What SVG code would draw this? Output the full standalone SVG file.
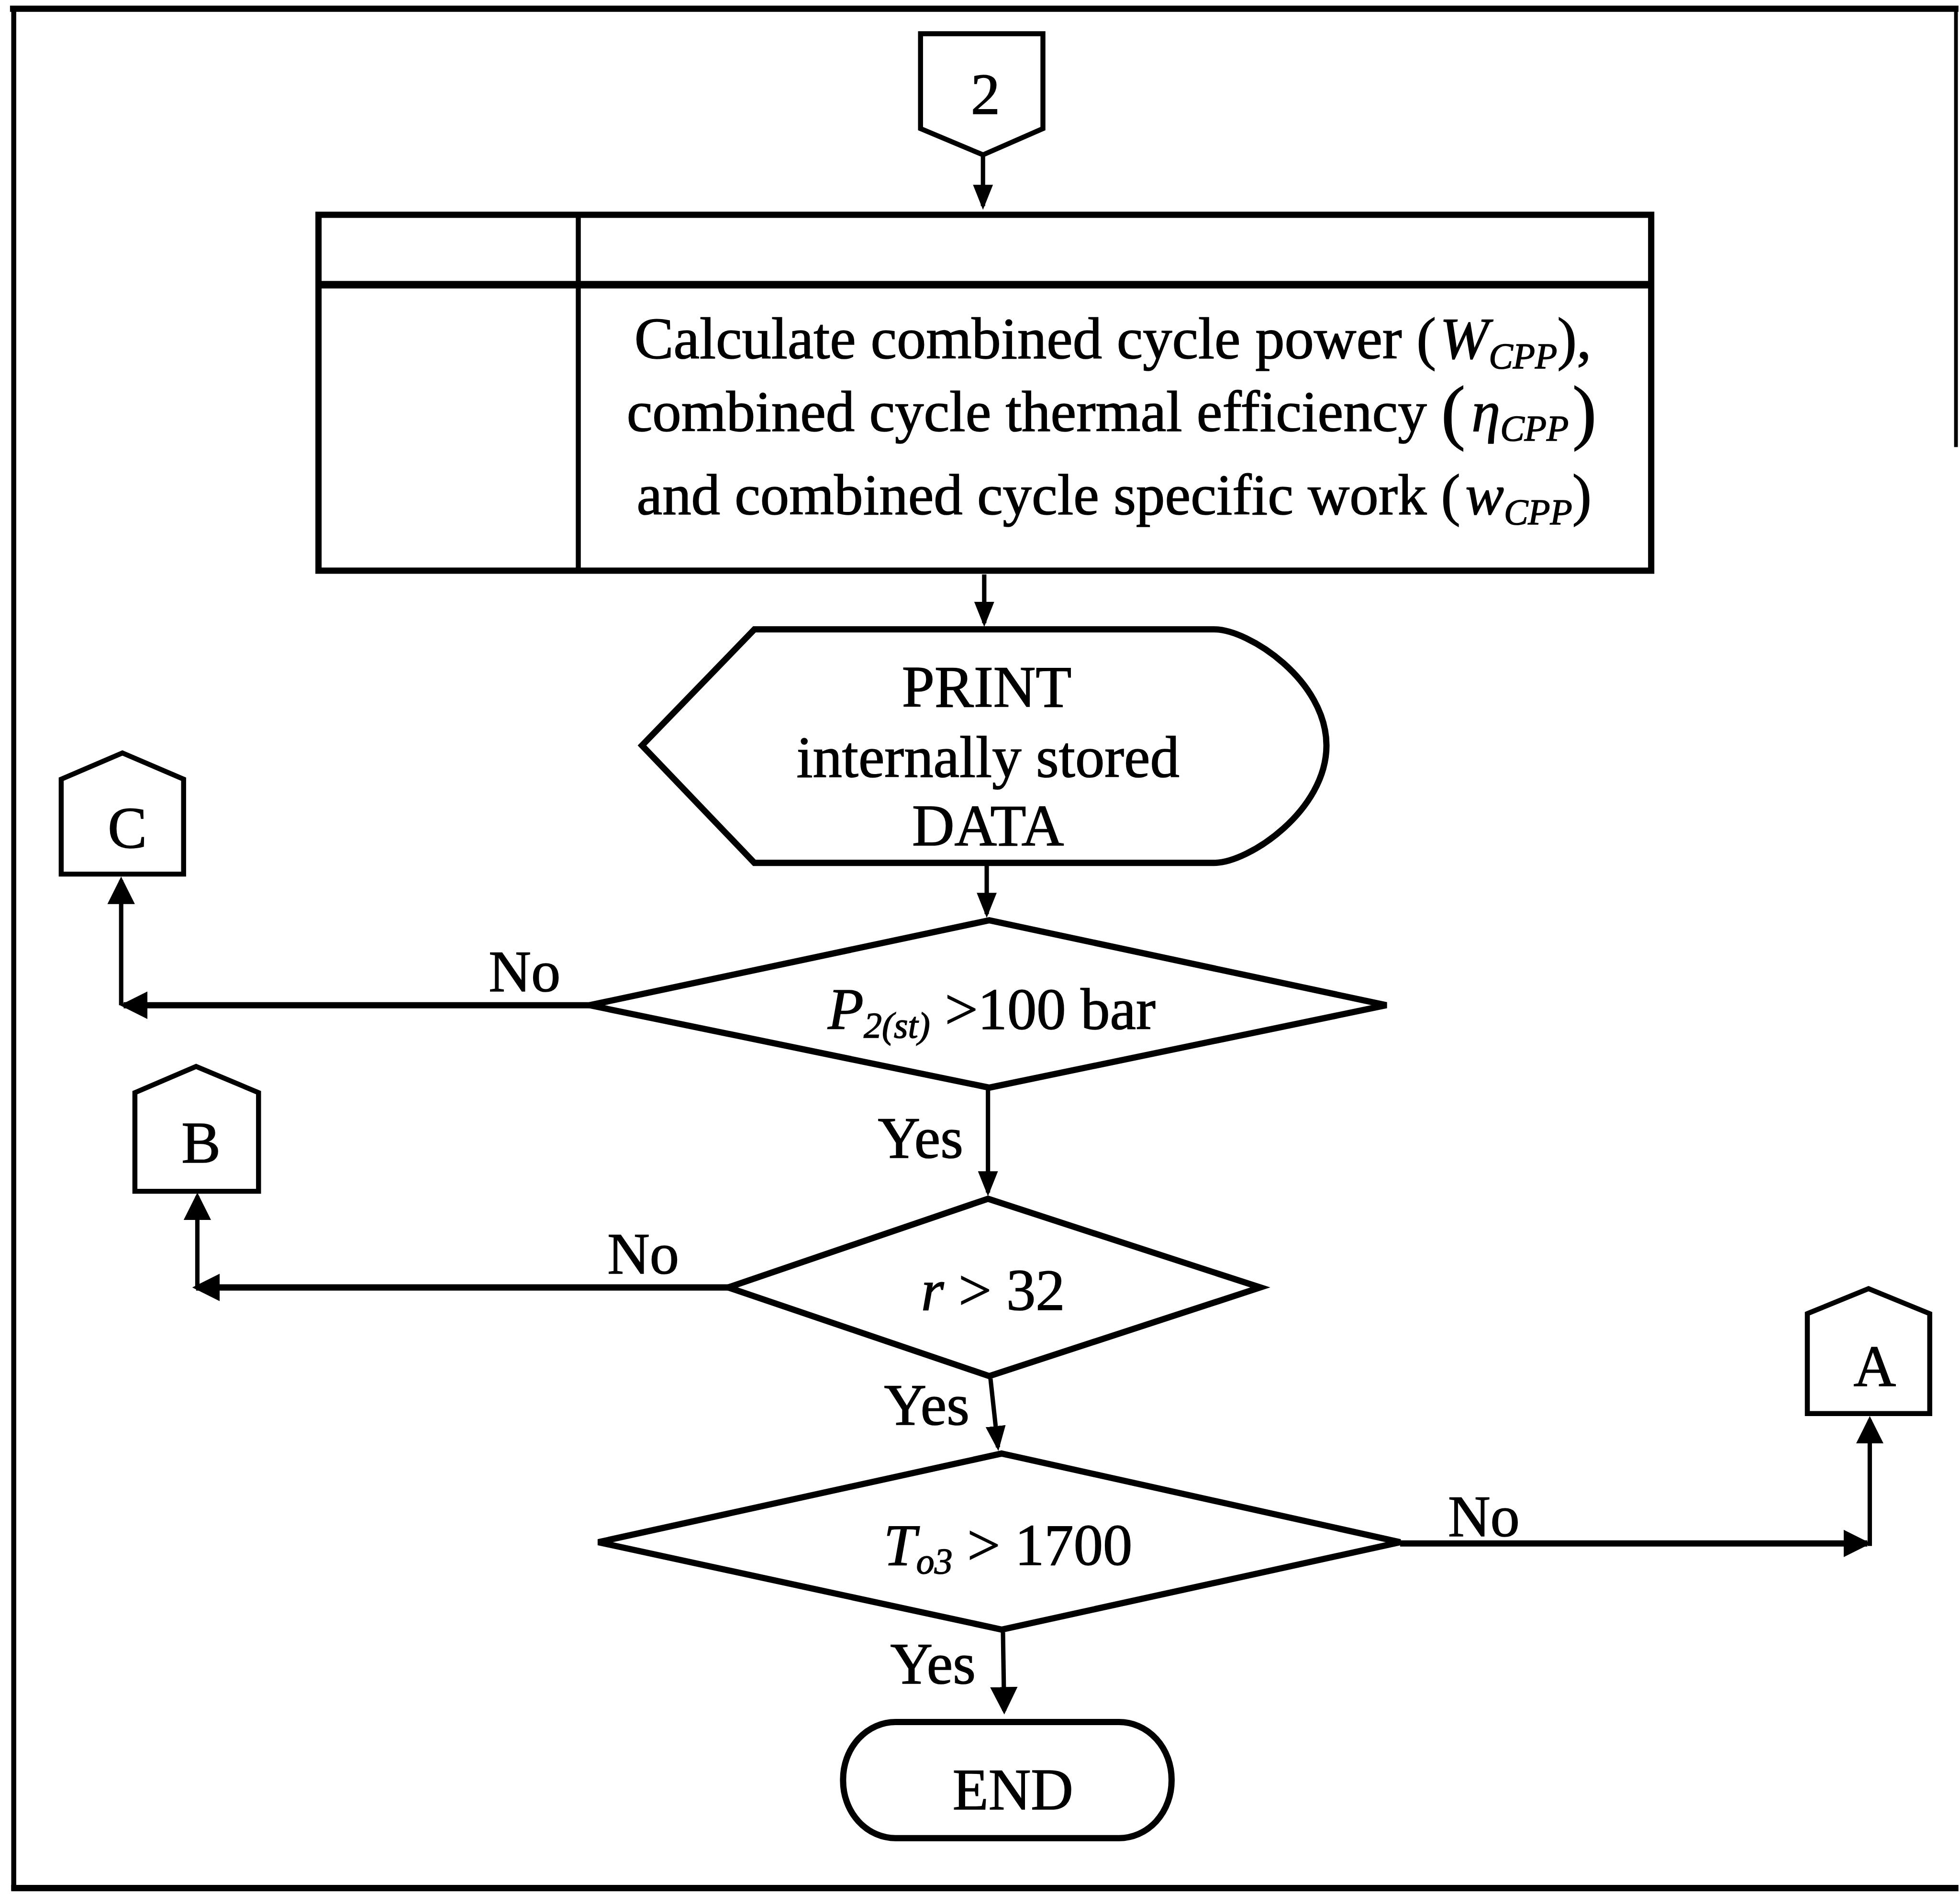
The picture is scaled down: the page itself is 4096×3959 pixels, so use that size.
<svg xmlns="http://www.w3.org/2000/svg" width="4096" height="3959" viewBox="0 0 4096 3959">
  <defs>
    <style>
      .shape{fill:#fff;stroke:#000;stroke-width:5;stroke-linejoin:miter}
      .conn{fill:#fff;stroke:#000;stroke-width:4;stroke-linejoin:miter}
      .line{fill:none;stroke:#000;stroke-width:3.5}
      .hline{fill:none;stroke:#000;stroke-width:5}
      .frame{fill:none;stroke:#000}
      text{font-family:"Liberation Serif","Times New Roman",serif;font-size:47px;fill:#000;stroke:#000;stroke-width:0.6}
      .c{text-anchor:middle}
      .i{font-style:italic}
      .sub{font-style:italic;font-size:29px}
      .tight{font-size:46.3px}
    </style>
    <marker id="ah" viewBox="0 0 20 16" refX="17" refY="8" markerWidth="20" markerHeight="16" markerUnits="userSpaceOnUse" orient="auto">
      <path d="M0,0 L20,8 L0,16 Z" fill="#000"/>
    </marker>
    <marker id="ahw" viewBox="0 0 22 22" refX="19" refY="11" markerWidth="22" markerHeight="22" markerUnits="userSpaceOnUse" orient="auto">
      <path d="M0,0 L22,11 L0,22 Z" fill="#000"/>
    </marker>
  </defs>
  <rect width="4096" height="3959" fill="#fff"/>
  <g transform="scale(2.6102)">
    <!-- page frame -->
    <g id="frame">
      <line class="frame" x1="8" y1="7" x2="1568" y2="7" stroke-width="5"/>
      <line class="frame" x1="11" y1="5" x2="11" y2="1514" stroke-width="4"/>
      <line class="frame" x1="1566" y1="5" x2="1566" y2="358" stroke-width="3"/>
      <line class="frame" x1="9" y1="1512" x2="1568" y2="1512" stroke-width="5"/>
    </g>

    <!-- connectors -->
    <g id="connectors">
      <path class="line" d="M787,125 V165" marker-end="url(#ah)"/>
      <path class="line" d="M788,460 V499" marker-end="url(#ah)"/>
      <path class="line" d="M790,693 V732" marker-end="url(#ah)"/>
      <path class="line" d="M791,873 V955" marker-end="url(#ah)"/>
      <path class="line" d="M793,1104 L799,1159" marker-end="url(#ah)"/>
      <path class="line" d="M803,1307 L804,1370" marker-end="url(#ahw)"/>
      <path class="hline" d="M472,805 H99" marker-end="url(#ahw)"/>
      <path class="line" d="M97,805 V705" marker-end="url(#ahw)"/>
      <path class="hline" d="M583,1031 H157" marker-end="url(#ahw)"/>
      <path class="line" d="M158,1032 V958" marker-end="url(#ahw)"/>
      <path class="hline" d="M1121,1236 H1495" marker-end="url(#ahw)"/>
      <path class="line" d="M1497,1238 V1137" marker-end="url(#ahw)"/>
      <text class="c" x="420" y="794">No</text>
      <text class="c" x="515" y="1020">No</text>
      <text class="c" x="1188" y="1230">No</text>
      <text class="c" x="737" y="927">Yes</text>
      <text class="c" x="742" y="1141">Yes</text>
      <text class="c" x="747" y="1348">Yes</text>
    </g>

    <!-- off-page entry 2 -->
    <g id="entry-2">
      <polygon class="conn" points="737,27 835,27 835,103 787,124 737,103"/>
      <text class="c" x="789" y="91">2</text>
    </g>

    <!-- calculation block -->
    <g id="calc">
      <rect class="shape" x="255" y="172" width="1067" height="285"/>
      <line x1="255" y1="228" x2="1322" y2="228" stroke="#000" stroke-width="6"/>
      <line x1="463" y1="172" x2="463" y2="457" stroke="#000" stroke-width="4"/>
      <text class="c" x="891" y="287">Calculate combined cycle power (<tspan class="i" dx="3">W</tspan><tspan class="sub" dy="8">CPP</tspan><tspan dy="-8">),</tspan></text>
      <text class="c tight" x="890" y="345">combined cycle thermal efficiency <tspan font-size="58" dy="4">(</tspan><tspan class="i" dx="5" dy="-4">η</tspan><tspan class="sub" dy="8">CPP</tspan><tspan font-size="58" dx="3" dy="-4">)</tspan></text>
      <text class="c tight" x="892" y="412">and combined cycle specific work (<tspan class="i" dx="4">w</tspan><tspan class="sub" dy="8">CPP</tspan><tspan dy="-8">)</tspan></text>
    </g>

    <!-- display output -->
    <g id="print">
      <path class="shape" d="M604,504 H972 C1000,504 1062,545 1062,597 C1062,649 1000,691 972,691 H604 L514,597 Z"/>
      <text class="c" x="790" y="566">PRINT</text>
      <text class="c" x="791" y="622">internally stored</text>
      <text class="c" x="791" y="677">DATA</text>
    </g>

    <!-- decision: pressure -->
    <g id="dec-pressure">
      <polygon class="shape" points="792,737 1110,805 792,871 472,805"/>
      <text class="c" x="794" y="824"><tspan class="i">P</tspan><tspan class="sub" dy="7">2(st)</tspan><tspan dy="-7"> &gt;100 bar</tspan></text>
    </g>

    <!-- decision: ratio -->
    <g id="dec-ratio">
      <polygon class="shape" points="791,960 1009,1031 792,1102 583,1031"/>
      <text class="c" x="795" y="1049"><tspan class="i">r</tspan> &gt; 32</text>
    </g>

    <!-- decision: temperature -->
    <g id="dec-temp">
      <polygon class="shape" points="802,1164 1121,1235 802,1305 479,1235"/>
      <text class="c" x="807" y="1253"><tspan class="i">T</tspan><tspan class="sub" dy="7">o3</tspan><tspan dy="-7"> &gt; 1700</tspan></text>
    </g>

    <!-- off-page exits -->
    <g id="exit-C">
      <polygon class="conn" points="49,624 98,603 147,624 147,700 49,700"/>
      <text class="c" x="102" y="679">C</text>
    </g>
    <g id="exit-B">
      <polygon class="conn" points="108,875 157,854 207,875 207,954 108,954"/>
      <text class="c" x="161" y="931">B</text>
    </g>
    <g id="exit-A">
      <polygon class="conn" points="1447,1052 1496,1032 1545,1052 1545,1132 1447,1132"/>
      <text class="c" x="1501" y="1110">A</text>
    </g>

    <!-- terminator -->
    <g id="end">
      <rect class="shape" x="675" y="1379" width="263" height="93" rx="42" ry="46"/>
      <text class="c" x="811" y="1449">END</text>
    </g>
  </g>
</svg>
